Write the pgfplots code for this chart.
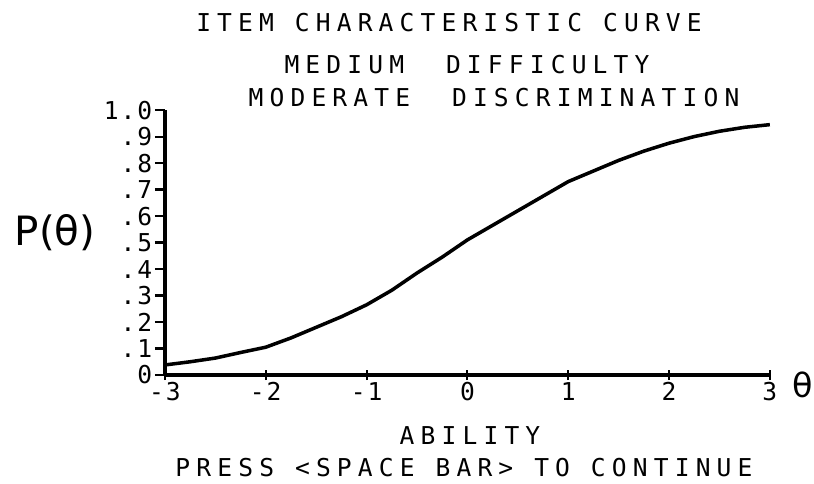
\documentclass[border=0pt]{standalone}
\usepackage{fontspec}
\usepackage{pgfplots}
\pgfplotsset{compat=1.18}
\newfontfamily\mono[LetterSpace=25]{DejaVu Sans Mono}
\newfontfamily\ticks[LetterSpace=8]{DejaVu Sans Mono}
\newfontfamily\sans{DejaVu Sans}

\begin{document}
\begin{tikzpicture}[x=0.02cm,y=0.02cm]
  % page size = 814 x 483 px
  \path[use as bounding box] (0,0) rectangle (814,483);
  \begin{axis}[
    at={(3.3cm,2.16cm)}, anchor=south west,
    scale only axis, width=12.1cm, height=5.3cm,
    xmin=-3, xmax=3, ymin=0, ymax=1,
    axis x line*=bottom, axis y line*=left,
    axis line style={line width=2pt, -},
    xtick={-3,-2,-1,0,1,2,3},
    xticklabels={-3,-2,-1,0,1,2,3},
    ytick={0,0.1,0.2,0.3,0.4,0.5,0.6,0.7,0.8,0.9,1},
    yticklabels={0,.1,.2,.3,.4,.5,.6,.7,.8,.9,1.0},
    xtick align=center, ytick align=outside,
    major tick length=0.2cm,
    tick style={line width=1.2pt, black},
    ticklabel style={font=\ticks\fontsize{14}{14}\selectfont},
    xticklabel style={yshift=2pt},
    yticklabel style={xshift=2pt},
    clip=false,
  ]
  \addplot[line width=2pt, black] coordinates {
    (-3,0.038) (-2.75,0.05) (-2.5,0.064) (-2.25,0.085) (-2,0.105)
    (-1.75,0.14) (-1.5,0.18) (-1.25,0.22) (-1,0.265) (-0.75,0.32)
    (-0.5,0.385) (-0.25,0.445) (0,0.51) (0.25,0.565) (0.5,0.62)
    (0.75,0.675) (1,0.73) (1.25,0.77) (1.5,0.81) (1.75,0.845)
    (2,0.875) (2.25,0.9) (2.5,0.92) (2.75,0.935) (3,0.945)
  };
  \end{axis}
  \begin{scope}[every node/.style={font=\mono\fontsize{14}{14}\selectfont, inner sep=0pt}]
    \node at (449,460) {ITEM CHARACTERISTIC CURVE};
    \node at (467,418) {MEDIUM~~DIFFICULTY};
    \node at (494,385) {MODERATE~~DISCRIMINATION};
    \node at (470,47) {ABILITY};
    \node at (464,15) {PRESS <SPACE BAR> TO CONTINUE};
  \end{scope}
  \node[font=\sans\fontsize{23}{23}\selectfont, inner sep=0pt] at (55,250) {P(θ)};
  \node[font=\sans\fontsize{19}{19}\selectfont, inner sep=0pt] at (803,98) {θ};
\end{tikzpicture}
\end{document}
